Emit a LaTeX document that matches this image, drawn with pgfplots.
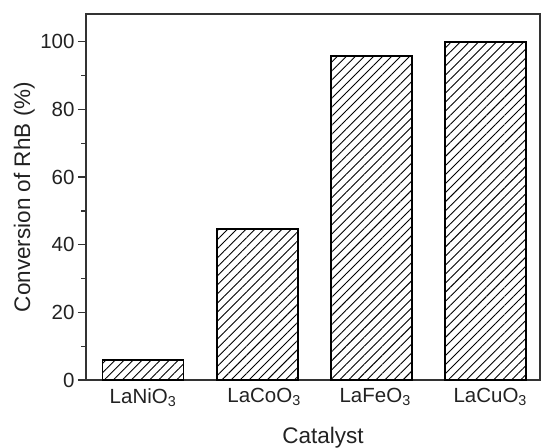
\documentclass[border=0pt]{standalone}
\usepackage{fontspec}
\setmainfont{Liberation Sans}
\usepackage{pgfplots}
\pgfplotsset{compat=1.18}
\usetikzlibrary{patterns.meta}
\definecolor{axisgray}{HTML}{333333}
\definecolor{textgray}{HTML}{222222}

\begin{document}
\begin{tikzpicture}
\begin{axis}[
    scale only axis,
    width=454bp, height=366bp,
    xmin=-0.5, xmax=3.48,
    ymin=0, ymax=108.2,
    ytick={0,20,...,100},
    minor y tick num=1,
    xtick={0,1,2,3},
    xticklabels={LaNiO\textsubscript{3},
                 \hspace*{14bp}\raisebox{-4bp}{LaCoO\textsubscript{3}},
                 \hspace*{8bp}\raisebox{-4bp}{LaFeO\textsubscript{3}},
                 \hspace*{10bp}\raisebox{-4bp}{LaCuO\textsubscript{3}}},
    xtick style={draw=none},
    ytick pos=left,
    tick align=outside,
    major tick length=8bp,
    minor tick length=4.5bp,
    every tick/.style={axisgray, line width=1.3bp},
    axis line style={axisgray, line width=1.6bp},
    tick label style={font=\fontsize{20.5bp}{24bp}\selectfont, text=textgray},
    xticklabel style={yshift=3bp},
    label style={font=\fontsize{22.5bp}{27bp}\selectfont, text=textgray},
    /pgf/number format/assume math mode=true,
    xlabel={Catalyst},
    ylabel={Conversion of RhB (\%)},
    xlabel style={at={(rel axis cs:0.5,0)}, anchor=base, yshift=-63bp, xshift=10bp},
    ylabel style={at={(rel axis cs:-0.1233,0.5)}, anchor=base},
]
\coordinate (sw) at (rel axis cs:0,0);
\coordinate (ne) at (rel axis cs:1,1);
\addplot[ybar, bar width=81bp, draw=black, line width=1.8bp,
    pattern={Lines[angle=45, distance=6.4bp, line width=0.9bp]}, pattern color=black]
    coordinates {(0,5.9) (1,44.6) (2,95.9) (3,100)};
\end{axis}
\pgfresetboundingbox
\path ([shift={(-86bp,-68bp)}]sw) rectangle ([shift={(1bp,14bp)}]ne);
\end{tikzpicture}
\end{document}
